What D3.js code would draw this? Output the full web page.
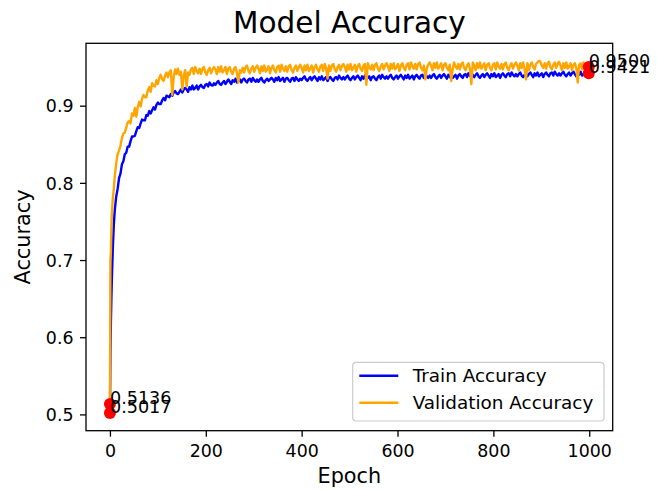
<!DOCTYPE html>
<html>
<head>
<meta charset="utf-8">
<script src="https://cdn.jsdelivr.net/npm/d3@7"></script>
<style>
  html, body { margin: 0; padding: 0; background: #fff; }
  svg { display: block; }
  text { font-family: "DejaVu Sans", sans-serif; fill: #000; }
</style>
</head>
<body>
<svg id="chart" width="670" height="490"></svg>
<script>
// Epochs at which accuracy was recorded (dense at the start, then every 3 epochs)
const epochs = [0, 1, 2, 3, 4, 6, 8].concat(d3.range(10, 1000, 3), [999]);

const trainAcc = [
  0.5017, 0.580, 0.620, 0.650, 0.675, 0.715, 0.745,
  0.764, 0.782, 0.792, 0.806, 0.812, 0.824, 0.828, 0.837, 0.839, 0.847,
  0.847, 0.854, 0.860, 0.860, 0.861, 0.867, 0.872, 0.871, 0.877, 0.882,
  0.881, 0.881, 0.888, 0.887, 0.893, 0.890, 0.894, 0.898, 0.895, 0.901,
  0.904, 0.902, 0.902, 0.907, 0.910, 0.907, 0.913, 0.912, 0.911, 0.915,
  0.913, 0.917, 0.919, 0.916, 0.915, 0.918, 0.921, 0.917, 0.921, 0.923,
  0.921, 0.918, 0.924, 0.921, 0.926, 0.921, 0.923, 0.926, 0.921, 0.925,
  0.927, 0.924, 0.923, 0.927, 0.928, 0.925, 0.930, 0.927, 0.926, 0.929,
  0.927, 0.930, 0.932, 0.928, 0.927, 0.930, 0.932, 0.928, 0.931, 0.934,
  0.931, 0.928, 0.933, 0.931, 0.935, 0.930, 0.932, 0.934, 0.930, 0.934,
  0.935, 0.932, 0.930, 0.934, 0.935, 0.931, 0.936, 0.933, 0.931, 0.934,
  0.931, 0.934, 0.936, 0.932, 0.930, 0.933, 0.935, 0.932, 0.934, 0.936,
  0.934, 0.931, 0.936, 0.933, 0.937, 0.932, 0.934, 0.936, 0.931, 0.935,
  0.936, 0.933, 0.931, 0.935, 0.936, 0.932, 0.937, 0.934, 0.932, 0.935,
  0.933, 0.936, 0.938, 0.934, 0.932, 0.935, 0.937, 0.933, 0.936, 0.938,
  0.935, 0.932, 0.937, 0.934, 0.938, 0.933, 0.935, 0.937, 0.932, 0.936,
  0.937, 0.934, 0.932, 0.936, 0.937, 0.934, 0.939, 0.936, 0.934, 0.937,
  0.934, 0.937, 0.939, 0.935, 0.933, 0.936, 0.938, 0.934, 0.937, 0.939,
  0.936, 0.933, 0.938, 0.935, 0.939, 0.934, 0.936, 0.938, 0.933, 0.937,
  0.938, 0.935, 0.933, 0.937, 0.939, 0.935, 0.940, 0.937, 0.935, 0.938,
  0.935, 0.938, 0.940, 0.936, 0.934, 0.937, 0.939, 0.935, 0.938, 0.940,
  0.937, 0.934, 0.939, 0.936, 0.940, 0.935, 0.937, 0.939, 0.934, 0.938,
  0.940, 0.937, 0.935, 0.939, 0.940, 0.936, 0.941, 0.938, 0.936, 0.939,
  0.936, 0.939, 0.941, 0.937, 0.935, 0.938, 0.940, 0.936, 0.939, 0.941,
  0.938, 0.935, 0.940, 0.937, 0.941, 0.936, 0.938, 0.940, 0.935, 0.939,
  0.941, 0.938, 0.936, 0.940, 0.941, 0.937, 0.942, 0.939, 0.937, 0.940,
  0.937, 0.940, 0.942, 0.938, 0.936, 0.939, 0.941, 0.937, 0.940, 0.942,
  0.939, 0.936, 0.941, 0.938, 0.942, 0.937, 0.939, 0.941, 0.936, 0.940,
  0.942, 0.939, 0.937, 0.941, 0.942, 0.938, 0.943, 0.940, 0.938, 0.941,
  0.938, 0.941, 0.943, 0.939, 0.937, 0.940, 0.942, 0.938, 0.941, 0.943,
  0.940, 0.937, 0.942, 0.939, 0.943, 0.938, 0.940, 0.942, 0.937, 0.941,
  0.943, 0.940, 0.938, 0.942, 0.943, 0.939, 0.944, 0.941, 0.939, 0.942,
  0.939, 0.942, 0.944, 0.940, 0.938, 0.941, 0.943, 0.939, 0.942, 0.944,
  0.941, 0.938, 0.943, 0.940, 0.944, 0.939, 0.941, 0.943, 0.938, 0.942,
  0.9421
];

const valAcc = [
  0.5136, 0.700, 0.710, 0.740, 0.760, 0.780, 0.792,
  0.808, 0.825, 0.837, 0.842, 0.848, 0.858, 0.864, 0.865, 0.872, 0.878,
  0.880, 0.877, 0.890, 0.887, 0.897, 0.886, 0.898, 0.905, 0.899, 0.909,
  0.914, 0.911, 0.911, 0.920, 0.924, 0.918, 0.929, 0.926, 0.925, 0.933,
  0.928, 0.936, 0.940, 0.934, 0.932, 0.939, 0.943, 0.937, 0.943, 0.946,
  0.914, 0.937, 0.947, 0.941, 0.948, 0.940, 0.944, 0.921, 0.939, 0.946,
  0.925, 0.943, 0.940, 0.947, 0.949, 0.941, 0.950, 0.945, 0.942, 0.948,
  0.941, 0.948, 0.950, 0.943, 0.940, 0.946, 0.949, 0.942, 0.947, 0.950,
  0.947, 0.941, 0.950, 0.944, 0.951, 0.943, 0.946, 0.950, 0.941, 0.948,
  0.950, 0.944, 0.941, 0.948, 0.950, 0.942, 0.930, 0.946, 0.943, 0.949,
  0.943, 0.950, 0.952, 0.945, 0.942, 0.948, 0.951, 0.944, 0.949, 0.952,
  0.948, 0.942, 0.951, 0.945, 0.952, 0.944, 0.947, 0.951, 0.942, 0.949,
  0.952, 0.946, 0.943, 0.950, 0.952, 0.944, 0.953, 0.948, 0.945, 0.951,
  0.944, 0.951, 0.953, 0.946, 0.943, 0.949, 0.952, 0.945, 0.950, 0.953,
  0.949, 0.943, 0.952, 0.946, 0.953, 0.945, 0.948, 0.952, 0.943, 0.950,
  0.953, 0.947, 0.944, 0.951, 0.953, 0.945, 0.954, 0.949, 0.935, 0.952,
  0.945, 0.952, 0.954, 0.947, 0.944, 0.950, 0.953, 0.946, 0.951, 0.954,
  0.950, 0.944, 0.953, 0.947, 0.954, 0.946, 0.949, 0.953, 0.944, 0.951,
  0.954, 0.948, 0.945, 0.952, 0.954, 0.927, 0.955, 0.950, 0.947, 0.953,
  0.946, 0.953, 0.955, 0.948, 0.945, 0.951, 0.954, 0.947, 0.952, 0.955,
  0.951, 0.945, 0.954, 0.948, 0.955, 0.947, 0.950, 0.954, 0.945, 0.952,
  0.955, 0.949, 0.946, 0.953, 0.955, 0.947, 0.956, 0.951, 0.948, 0.954,
  0.947, 0.954, 0.956, 0.949, 0.946, 0.952, 0.934, 0.948, 0.953, 0.956,
  0.952, 0.946, 0.955, 0.949, 0.956, 0.948, 0.951, 0.955, 0.946, 0.953,
  0.955, 0.949, 0.946, 0.953, 0.932, 0.947, 0.956, 0.951, 0.948, 0.954,
  0.947, 0.954, 0.956, 0.949, 0.946, 0.952, 0.955, 0.948, 0.928, 0.956,
  0.952, 0.946, 0.955, 0.949, 0.956, 0.948, 0.951, 0.955, 0.946, 0.953,
  0.955, 0.949, 0.946, 0.953, 0.955, 0.947, 0.956, 0.951, 0.948, 0.954,
  0.947, 0.954, 0.956, 0.949, 0.946, 0.952, 0.955, 0.948, 0.953, 0.956,
  0.952, 0.946, 0.955, 0.949, 0.956, 0.948, 0.934, 0.955, 0.946, 0.953,
  0.956, 0.950, 0.947, 0.954, 0.956, 0.958, 0.957, 0.952, 0.949, 0.955,
  0.948, 0.955, 0.957, 0.950, 0.947, 0.953, 0.956, 0.949, 0.954, 0.957,
  0.952, 0.946, 0.955, 0.949, 0.956, 0.948, 0.951, 0.955, 0.946, 0.953,
  0.955, 0.949, 0.930, 0.953, 0.955, 0.947, 0.956, 0.951, 0.948, 0.954,
  0.9500
];

const xTicks = [0, 200, 400, 600, 800, 1000];
const yTicks = [0.5, 0.6, 0.7, 0.8, 0.9];
const seriesNames = ["Train Accuracy", "Validation Accuracy"];
const seriesColors = ["#0000ff", "#ffa500"];

const svg = d3.select("#chart");
const plot = { left: 86, right: 612.7, top: 43.3, bottom: 430.7 };

// Axis limits padded by 5% of the data span on each side
const xMin = d3.min(epochs), xMax = d3.max(epochs);
const xPad = (xMax - xMin) * 0.05;
const allVals = trainAcc.concat(valAcc);
const yMin = d3.min(allVals), yMax = d3.max(allVals);
const yPad = (yMax - yMin) * 0.05;

const x = d3.scaleLinear().domain([xMin - xPad, xMax + xPad]).range([plot.left, plot.right]);
const y = d3.scaleLinear().domain([yMin - yPad, yMax + yPad]).range([plot.bottom, plot.top]);

svg.append("clipPath").attr("id", "plot-clip")
  .append("rect")
  .attr("x", plot.left).attr("y", plot.top)
  .attr("width", plot.right - plot.left).attr("height", plot.bottom - plot.top);

const line = d3.line().x(d => x(d[0])).y(d => y(d[1]));

[trainAcc, valAcc].forEach((vals, i) => {
  svg.append("path")
    .datum(epochs.map((e, k) => [e, vals[k]]))
    .attr("clip-path", "url(#plot-clip)")
    .attr("fill", "none")
    .attr("stroke", seriesColors[i])
    .attr("stroke-width", 2.4)
    .attr("stroke-linejoin", "round")
    .attr("d", line);
});

// First and last values of each curve, marked and labelled
const last = epochs.length - 1;
const endpoints = [
  [epochs[0], trainAcc[0]], [epochs[0], valAcc[0]],
  [epochs[last], trainAcc[last]], [epochs[last], valAcc[last]]
];
svg.selectAll("circle.end").data(endpoints).enter().append("circle")
  .attr("class", "end")
  .attr("cx", d => x(d[0])).attr("cy", d => y(d[1]))
  .attr("r", 6).attr("fill", "#ff0000");
svg.selectAll("text.end").data(endpoints).enter().append("text")
  .attr("class", "end")
  .attr("x", d => x(d[0])).attr("y", d => y(d[1]))
  .attr("font-size", 17.6)
  .text(d => d[1].toFixed(4));

// Axes
const xAxis = svg.append("g")
  .attr("transform", `translate(0,${plot.bottom})`)
  .call(d3.axisBottom(x).tickValues(xTicks).tickFormat(d3.format("d")).tickSizeInner(6).tickSizeOuter(0).tickPadding(6));
const yAxis = svg.append("g")
  .attr("transform", `translate(${plot.left},0)`)
  .call(d3.axisLeft(y).tickValues(yTicks).tickFormat(d3.format(".1f")).tickSizeInner(6).tickSizeOuter(0).tickPadding(6));

[xAxis, yAxis].forEach(g => {
  g.select(".domain").remove();
  g.selectAll(".tick line").attr("stroke", "#000").attr("stroke-width", 1.3);
  g.selectAll(".tick text").attr("font-size", 17.4).attr("font-family", "DejaVu Sans").attr("fill", "#000");
});
xAxis.selectAll(".tick text").attr("dy", null).attr("y", 26);
yAxis.selectAll(".tick text").attr("dy", "0.36em").attr("x", -12.5);

// Frame around the plotting area
svg.append("rect")
  .attr("x", plot.left).attr("y", plot.top)
  .attr("width", plot.right - plot.left).attr("height", plot.bottom - plot.top)
  .attr("fill", "none").attr("stroke", "#000").attr("stroke-width", 1.3);

// Titles
svg.append("text")
  .attr("x", (plot.left + plot.right) / 2).attr("y", 33)
  .attr("text-anchor", "middle").attr("font-size", 29.5)
  .text("Model Accuracy");
svg.append("text")
  .attr("x", (plot.left + plot.right) / 2).attr("y", 483)
  .attr("text-anchor", "middle").attr("font-size", 20.8)
  .text("Epoch");
svg.append("text")
  .attr("transform", `translate(30,${(plot.top + plot.bottom) / 2}) rotate(-90)`)
  .attr("text-anchor", "middle").attr("font-size", 20.8)
  .text("Accuracy");

// Legend
const legend = svg.append("g").attr("transform", "translate(352.7,362.3)");
legend.append("rect")
  .attr("width", 251.3).attr("height", 58.7).attr("rx", 3.5)
  .attr("fill", "#fff").attr("fill-opacity", 0.8)
  .attr("stroke", "#cccccc").attr("stroke-width", 1.2);
seriesNames.forEach((name, i) => {
  const row = legend.append("g").attr("transform", `translate(0,${13.4 + i * 27})`);
  row.append("line")
    .attr("x1", 6.6).attr("x2", 45.6)
    .attr("stroke", seriesColors[i]).attr("stroke-width", 2.6);
  row.append("text")
    .attr("x", 60).attr("dy", "0.36em")
    .attr("font-size", 18.4)
    .text(name);
});
</script>
</body>
</html>
